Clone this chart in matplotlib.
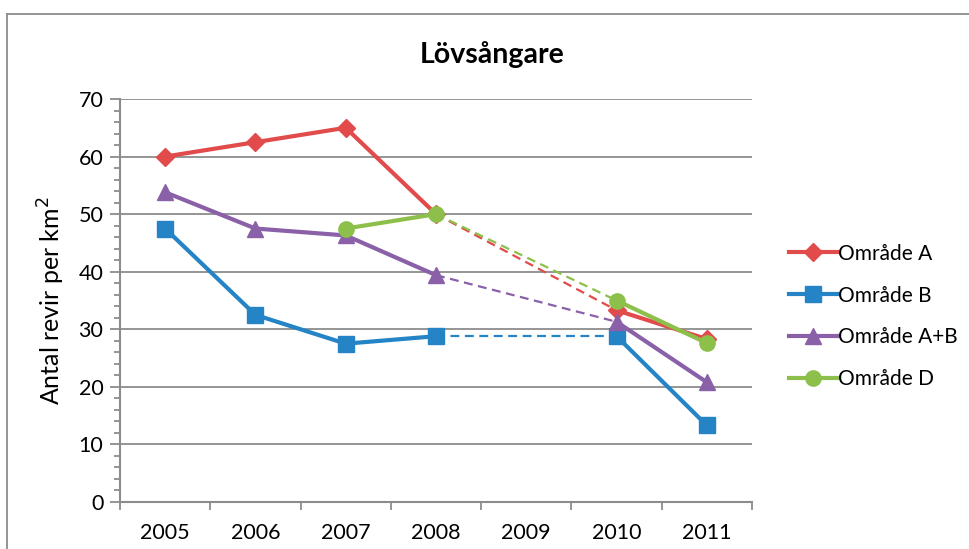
#!/usr/bin/env python3

import numpy as np
import matplotlib
matplotlib.use('Agg')
import matplotlib.pyplot as plt
from matplotlib.lines import Line2D
from matplotlib.ticker import MultipleLocator

years = ['2005', '2006', '2007', '2008', '2009', '2010', '2011']
nan = np.nan

omr_a = [60.0, 62.5, 65.0, 50.0, nan, 33.3, 28.3]
omr_b = [47.5, 32.5, 27.5, 28.8, nan, 28.8, 13.3]
omr_ab = [53.8, 47.5, 46.3, 39.4, nan, 31.3, 20.8]
omr_d = [nan, nan, 47.5, 50.0, nan, 35.0, 27.6]

labels = ['Område A', 'Område B', 'Område A+B', 'Område D']
colors = ['#E24B4B', '#2484C6', '#8A60A8', '#8CC04A']
markers = ['D', 's', '^', 'o']
msizes = [9, 11, 11, 11]

plt.rcParams['font.family'] = ['Lato', 'DejaVu Sans']

fig = plt.figure(figsize=(9.7, 5.49), dpi=100)
ax = fig.add_axes([120/970, 47/549, 632/970, 403/549])

x = np.arange(len(years))
grid_c = '#8C8C8C'

# dashed connectors across the missing 2009
for vals, c in zip([omr_a, omr_b, omr_ab, omr_d], colors):
    ax.plot([x[3], x[5]], [vals[3], vals[5]], color=c, lw=1.6,
            dashes=(4, 2.5), zorder=2)

for vals, lab, c, m, ms in zip([omr_a, omr_b, omr_ab, omr_d], labels, colors, markers, msizes):
    ax.plot(x, np.array(vals, dtype=float), color=c, lw=3, marker=m, ms=ms,
            mec=c, mfc=c, label=lab, zorder=3)

ax.set_xlim(-0.5, len(years) - 0.5)
ax.set_ylim(0, 70)
ax.yaxis.set_major_locator(MultipleLocator(10))
ax.yaxis.set_minor_locator(MultipleLocator(2))
ax.set_xticks(x)
ax.set_xticklabels(years)
ax.set_xticks(np.arange(-0.5, len(years)), minor=True)
ax.tick_params(axis='x', which='major', length=0, labelsize=15.5, pad=15)
ax.tick_params(axis='x', which='minor', length=6, width=1.3, color=grid_c, direction='out')
ax.tick_params(axis='y', which='major', length=7, width=1.3, color=grid_c, labelsize=15.5, pad=5)
ax.tick_params(axis='y', which='minor', length=4, width=1.3, color=grid_c)

ax.grid(axis='y', which='major', color=grid_c, lw=1.3, zorder=0)
ax.set_axisbelow(True)
for s in ['top', 'right']:
    ax.spines[s].set_visible(False)
for s in ['left', 'bottom']:
    ax.spines[s].set_color(grid_c)
    ax.spines[s].set_linewidth(1.5)

ax.set_ylabel('Antal revir per km$^2$', fontsize=18, labelpad=8)
fig.text(492/970, 1 - 55/549, 'Lövsångare', fontsize=20.5, fontweight='bold',
         ha='center', va='center')

leg = ax.legend(loc='center left', bbox_to_anchor=(1.0, 0.5 - 16/403), frameon=False,
                fontsize=15, handlelength=2.3, handletextpad=0.05,
                labelspacing=1.05, borderaxespad=1.4)

# outer chart frame (top and left edges visible)
fig.add_artist(Line2D([7/970, 7/970], [0, 1 - 14/549], transform=fig.transFigure,
                      color='#8C8C8C', lw=1.3))
fig.add_artist(Line2D([7/970, 1], [1 - 14/549, 1 - 14/549], transform=fig.transFigure,
                      color='#8C8C8C', lw=1.3))

fig.savefig('out.png', dpi=100)
